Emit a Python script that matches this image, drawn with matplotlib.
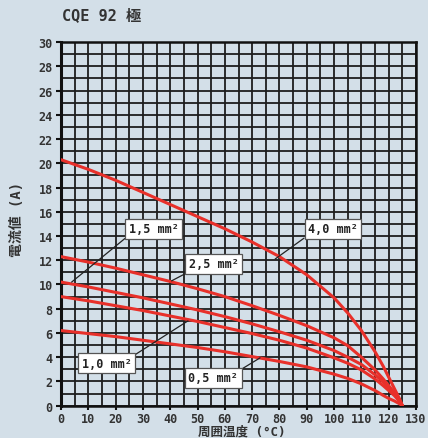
import matplotlib
matplotlib.use("Agg")
import matplotlib.pyplot as plt
import numpy as np

# ambient temperature (°C)
temps = [0, 10, 20, 30, 40, 50, 60, 70, 80, 90, 100, 105, 110, 115, 118, 120, 122, 124, 125]

# current (A) per cross section
cur_40 = [20.3, 19.5, 18.6, 17.6, 16.6, 15.6, 14.6, 13.5, 12.3, 10.8, 8.9, 7.65, 6.2, 4.45, 3.25, 2.35, 1.45, 0.55, 0]
cur_25 = [12.3, 11.85, 11.35, 10.8, 10.25, 9.65, 9.0, 8.25, 7.45, 6.6, 5.6, 4.95, 4.0, 2.95, 2.2, 1.65, 1.1, 0.45, 0]
cur_15 = [10.2, 9.8, 9.35, 8.9, 8.4, 7.9, 7.35, 6.75, 6.1, 5.4, 4.55, 4.0, 3.4, 2.55, 1.95, 1.5, 1.0, 0.4, 0]
cur_10 = [9.0, 8.65, 8.25, 7.85, 7.4, 6.95, 6.45, 5.95, 5.4, 4.75, 3.95, 3.5, 2.95, 2.2, 1.65, 1.25, 0.85, 0.35, 0]
cur_05 = [6.2, 5.95, 5.7, 5.4, 5.1, 4.8, 4.45, 4.05, 3.65, 3.2, 2.6, 2.25, 1.8, 1.25, 0.85, 0.6, 0.4, 0.15, 0]

series = [cur_40, cur_25, cur_15, cur_10, cur_05]
sizes = ["4,0 mm²", "2,5 mm²", "1,5 mm²", "1,0 mm²", "0,5 mm²"]

x_ticks = list(range(0, 131, 10))
y_ticks = list(range(0, 31, 2))

# label box centre, leader end, corner where the leader leaves the box
label_pos = {
    "4,0 mm²": ((99.6, 14.6), (78.4, 12.1), (0, 0)),
    "2,5 mm²": ((56.0, 11.7), (40.5, 10.3), (0.05, 0)),
    "1,5 mm²": ((34.0, 14.6), (3.9, 10.2), (0, 0)),
    "1,0 mm²": ((16.8, 3.5), (46.5, 7.0), (1, 1)),
    "0,5 mm²": ((55.7, 2.3), (72.9, 3.95), (1, 1)),
}

bg = "#d3dfe8"
red = "#e8302a"
mono = "DejaVu Sans Mono"

fig = plt.figure(figsize=(4.28, 4.39), dpi=100, facecolor=bg)
ax = fig.add_axes([0.1425, 0.0736, 0.8295, 0.8282], facecolor=bg)

for vals in series:
    ax.plot(temps, vals, color=red, lw=2.2, solid_joinstyle="round",
            solid_capstyle="round", zorder=3)

ax.set_xlim(0, 130)
ax.set_ylim(0, 30)
ax.set_xticks(x_ticks)
ax.set_yticks(y_ticks)
ax.set_xticks(np.arange(0, 131, 5), minor=True)
ax.set_yticks(np.arange(0, 31, 1), minor=True)
ax.grid(which="both", color="#1e1e1e", lw=1.3)
ax.set_axisbelow(True)
ax.tick_params(which="minor", length=0)
ax.tick_params(which="major", length=3.5, width=1.5, color="#111", pad=2.5,
               labelsize=8.5, labelcolor="#333")
ax.tick_params(axis="x", pad=1.5, length=3)
for lbl in ax.get_xticklabels() + ax.get_yticklabels():
    lbl.set_fontfamily(mono)
    lbl.set_fontweight("bold")
for s in ax.spines.values():
    s.set_color("#111")
    s.set_linewidth(1.8)
ax.spines["left"].set_linewidth(2.2)

for name in sizes:
    (bx, by), (ex, ey), rel = label_pos[name]
    ax.annotate(name, xy=(ex, ey), xytext=(bx, by), ha="center", va="center",
                fontsize=8.5, fontweight="bold", family=mono, color="#222",
                bbox=dict(boxstyle="square,pad=0.3", fc="white", ec="#555", lw=0.9),
                arrowprops=dict(arrowstyle="-", color="#222", lw=0.9, relpos=rel,
                                shrinkA=0, shrinkB=0),
                zorder=4)

fig.text(0.145, 0.965, "CQE 92 極", family=[mono, "Noto Sans CJK JP"],
         fontweight="bold", fontsize=11, color="#333", va="center", ha="left")
fig.text(0.04, 0.50, "電流値 (A)", family=[mono, "Noto Sans CJK JP"],
         fontweight="bold", fontsize=10, color="#333", rotation=90,
         va="center", ha="center")
fig.text(0.565, 0.002, "周囲温度 (°C)", family=[mono, "Noto Sans CJK JP"],
         fontweight="bold", fontsize=9, color="#333", va="bottom", ha="center")

fig.savefig("out.png", dpi=100, facecolor=bg)
